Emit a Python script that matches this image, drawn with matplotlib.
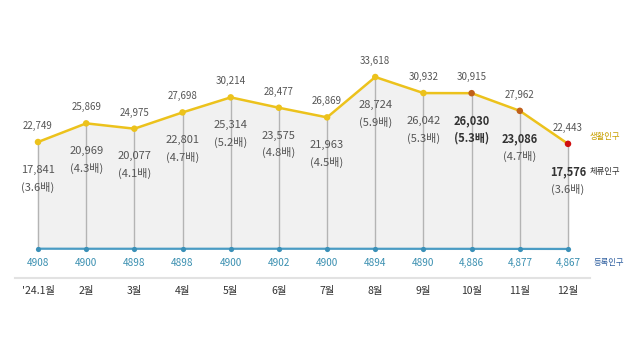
import matplotlib
matplotlib.use("Agg")
import matplotlib.pyplot as plt
import numpy as np

plt.rcParams['font.family'] = ['Noto Sans CJK KR', 'DejaVu Sans']

months = ["'24.1월", "2월", "3월", "4월", "5월", "6월", "7월", "8월", "9월", "10월", "11월", "12월"]
living = [22749, 25869, 24975, 27698, 30214, 28477, 26869, 33618, 30932, 30915, 27962, 22443]
stay = [17841, 20969, 20077, 22801, 25314, 23575, 21963, 28724, 26042, 26030, 23086, 17576]
ratio = ["3.6", "4.3", "4.1", "4.7", "5.2", "4.8", "4.5", "5.9", "5.3", "5.3", "4.7", "3.6"]
registered = [4908, 4900, 4898, 4898, 4900, 4902, 4900, 4894, 4890, 4886, 4877, 4867]
registered_labels = ["4908", "4900", "4898", "4898", "4900", "4902", "4900", "4894", "4890",
                     "4,886", "4,877", "4,867"]
legend_names = ["생활인구", "체류인구", "등록인구"]

fig = plt.figure(figsize=(6.4, 3.6), dpi=100)
ax = fig.add_axes([0, 0, 1, 1])
ax.set_axis_off()

px_per_idx = 48.18
x0_px = 38
ax.set_xlim(-x0_px / px_per_idx, 11 + (640 - 568) / px_per_idx)
k = 0.00598
y0_px = 278.05
ax.set_ylim((y0_px - 360) / k, y0_px / k)

def ypx(p):
    return (y0_px - p) / k

def xpx(p):
    return (p - x0_px) / px_per_idx

x = np.arange(len(months))

ax.fill_between(x, registered, living, color='#f1f1f1', zorder=1)
for i in x:
    ax.plot([i, i], [registered[i], living[i]], color='#b4b4b4', lw=1.0, zorder=2)

ax.plot(x, living, color='#ecc21c', lw=1.8, zorder=3)
ax.plot(x, registered, color='#4a9cc4', lw=1.6, zorder=3)

pt_colors = ['#ecc21c'] * 9 + ['#c0601a', '#c0601a', '#d01010']
ax.scatter(x, living, s=22, c=pt_colors, zorder=4, linewidths=0)
ax.scatter(x, registered, s=14, c='#3a90b8', zorder=4, linewidths=0)

for i in x:
    ax.annotate(f"{living[i]:,}", (i, living[i]), xytext=(0, 8), textcoords='offset points',
                ha='center', va='bottom', fontsize=7, color='#555555', zorder=5)
    bold = i >= 9
    ax.annotate(f"{stay[i]:,}", (i, living[i]), xytext=(0, -20), textcoords='offset points',
                ha='center', va='center', fontsize=8, color='#333333' if bold else '#555555',
                fontweight='bold' if bold else 'normal', zorder=5)
    ax.annotate(f"({ratio[i]}배)", (i, living[i]), xytext=(0, -32.5), textcoords='offset points',
                ha='center', va='center', fontsize=8, color='#333333' if i == 9 else '#555555',
                fontweight='bold' if i == 9 else 'normal', zorder=5)
    ax.annotate(registered_labels[i], (i, registered[i]), xytext=(0, -10), textcoords='offset points',
                ha='center', va='center', fontsize=7.2, color='#3a8fb0', zorder=5)
    ax.text(i, ypx(291), months[i], ha='center', va='center', fontsize=7.5, color='#333333',
            fontweight='medium')

ax.plot([xpx(15), xpx(590)], [ypx(278), ypx(278)], color='#e2e2e2', lw=1.5, zorder=1)

ax.text(xpx(590), ypx(136), legend_names[0], ha='left', va='center', fontsize=6, color='#c8a000')
ax.text(xpx(590), ypx(171), legend_names[1], ha='left', va='center', fontsize=6, color='#333333')
ax.text(xpx(594), ypx(262), legend_names[2], ha='left', va='center', fontsize=6, color='#3060a0')

fig.savefig("out.png", dpi=100)
